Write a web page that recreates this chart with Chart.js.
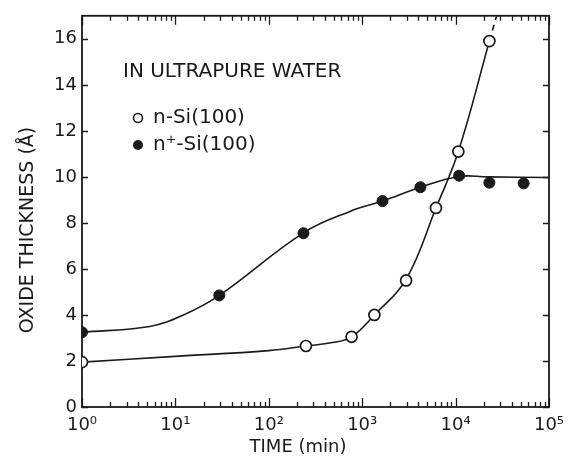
<!DOCTYPE html>
<html>
<head>
<meta charset="utf-8">
<script src="https://cdn.jsdelivr.net/npm/chart.js@4.4.1/dist/chart.umd.min.js"></script>
<style>
  html, body { margin: 0; padding: 0; background: #fff; }
  canvas { display: block; }
</style>
</head>
<body>
<canvas id="oxide" width="578" height="461"></canvas>
<script>
// measured points
const nSiTime = [1, 250, 770, 1350, 2950, 6160, 10700, 23000];
const nSiOxide = [1.95, 2.65, 3.05, 4.0, 5.5, 8.65, 11.1, 15.9];
const npSiTime = [1, 29.5, 235, 1650, 4200, 10900, 23000, 53500];
const npSiOxide = [3.25, 4.85, 7.55, 8.95, 9.55, 10.05, 9.75, 9.72];

// hand-drawn guide curves
const nFitTime = [1, 10, 100, 250, 480, 770, 1350, 2950, 6160, 10700, 23000];
const nFitOxide = [1.95, 2.2, 2.45, 2.65, 2.8, 3.05, 4.0, 5.55, 8.65, 11.1, 15.9];
const nDashTime = [23000, 27500];
const nDashOxide = [15.9, 17.0];
const npFitTime = [1, 5.3, 12.2, 29.5, 235, 740, 1650, 4200, 10900, 22000, 100000];
const npFitOxide = [3.25, 3.5, 4.0, 4.85, 7.57, 8.5, 8.95, 9.55, 10.02, 10.0, 9.97];

const xTickLabels = ['10⁰', '10¹', '10²', '10³', '10⁴', '10⁵'];
const yTicks = [0, 2, 4, 6, 8, 10, 12, 14, 16];

const ink = '#1a1a1a';
const pts = (xs, ys) => xs.map((x, i) => ({x: x, y: ys[i]}));
const isDecade = v => Math.abs(Math.log10(v) - Math.round(Math.log10(v))) < 1e-9;

Chart.defaults.font.family = 'DejaVu Sans';
Chart.defaults.color = ink;

const axisDeco = {
  id: 'axisDeco',
  beforeDatasetsDraw(chart) {
    const {ctx, chartArea: a, scales: {x, y}} = chart;
    ctx.save();
    ctx.strokeStyle = ink;
    ctx.lineWidth = 1.3;
    x.ticks.forEach(t => {
      const px = Math.round(x.getPixelForValue(t.value)) + 0.5;
      const len = isDecade(t.value) ? 9 : 5;
      ctx.beginPath();
      ctx.moveTo(px, a.bottom); ctx.lineTo(px, a.bottom - len);
      ctx.moveTo(px, a.top); ctx.lineTo(px, a.top + len);
      ctx.stroke();
    });
    y.ticks.forEach(t => {
      const py = Math.round(y.getPixelForValue(t.value)) + 0.5;
      ctx.beginPath();
      ctx.moveTo(a.left, py); ctx.lineTo(a.left + 6, py);
      ctx.moveTo(a.right, py); ctx.lineTo(a.right - 6, py);
      ctx.stroke();
    });
    ctx.lineWidth = 1.8;
    ctx.strokeRect(a.left, a.top, a.right - a.left, a.bottom - a.top);
    ctx.restore();
  },
  afterDraw(chart) {
    const {ctx} = chart;
    ctx.save();
    ctx.fillStyle = ink;
    ctx.textBaseline = 'middle';

    ctx.font = '18px "DejaVu Sans"';
    ctx.textAlign = 'center';
    ctx.fillText('TIME (min)', 298, 447);
    ctx.save();
    ctx.translate(28, 230);
    ctx.rotate(-Math.PI / 2);
    ctx.font = '19px "DejaVu Sans"';
    ctx.fillText('OXIDE THICKNESS (Å)', 0, 0);
    ctx.restore();

    ctx.textAlign = 'left';
    ctx.font = '20px "DejaVu Sans"';
    ctx.fillText('IN ULTRAPURE WATER', 123, 72);
    ctx.fillText('n-Si(100)', 153, 118);
    ctx.fillText('n⁺-Si(100)', 153, 145);

    ctx.lineWidth = 1.6;
    ctx.strokeStyle = ink;
    ctx.beginPath(); ctx.arc(138, 118, 4.5, 0, Math.PI * 2);
    ctx.fillStyle = '#fff'; ctx.fill(); ctx.stroke();
    ctx.beginPath(); ctx.arc(138, 145, 5, 0, Math.PI * 2);
    ctx.fillStyle = ink; ctx.fill();
    ctx.restore();
  }
};

new Chart(document.getElementById('oxide'), {
  type: 'scatter',
  data: {
    datasets: [
      {
        label: 'n-Si(100)',
        data: pts(nSiTime, nSiOxide),
        pointRadius: 5.5,
        pointBackgroundColor: '#fff',
        pointBorderColor: ink,
        pointBorderWidth: 1.7,
        order: 0
      },
      {
        label: 'n+-Si(100)',
        data: pts(npSiTime, npSiOxide),
        pointRadius: 5.5,
        pointBackgroundColor: ink,
        pointBorderColor: ink,
        pointBorderWidth: 1,
        order: 0
      },
      {
        label: 'n-Si fit',
        data: pts(nFitTime, nFitOxide),
        showLine: true,
        pointRadius: 0,
        borderColor: ink,
        borderWidth: 1.6,
        tension: 0.4,
        order: 1
      },
      {
        label: 'n-Si fit (extrapolated)',
        data: pts(nDashTime, nDashOxide),
        showLine: true,
        pointRadius: 0,
        borderColor: ink,
        borderWidth: 1.6,
        borderDash: [6, 5],
        order: 1
      },
      {
        label: 'n+-Si fit',
        data: pts(npFitTime, npFitOxide),
        showLine: true,
        pointRadius: 0,
        borderColor: ink,
        borderWidth: 1.6,
        tension: 0.4,
        order: 1
      }
    ]
  },
  options: {
    responsive: false,
    animation: false,
    devicePixelRatio: 1,
    layout: {padding: {top: 7, right: 29, left: 0, bottom: 0}},
    plugins: {legend: {display: false}, tooltip: {enabled: false}},
    scales: {
      x: {
        type: 'logarithmic',
        min: 1,
        max: 100000,
        grid: {display: false, drawTicks: false},
        border: {display: false},
        afterBuildTicks: s => {
          const t = [];
          for (let d = 0; d < 5; d++) {
            for (let k = 1; k < 10; k++) t.push({value: k * Math.pow(10, d)});
          }
          t.push({value: 100000});
          s.ticks = t;
        },
        afterFit: s => { s.height = 54; },
        ticks: {
          autoSkip: false,
          maxRotation: 0,
          padding: 8,
          font: {size: 18},
          callback: v => isDecade(v) ? xTickLabels[Math.round(Math.log10(v))] : ''
        }
      },
      y: {
        min: 0,
        max: 17,
        grid: {display: false, drawTicks: false},
        border: {display: false},
        afterBuildTicks: s => { s.ticks = yTicks.map(v => ({value: v})); },
        afterFit: s => { s.width = 82; },
        ticks: {padding: 5, font: {size: 18}}
      }
    }
  },
  plugins: [axisDeco]
});
</script>
</body>
</html>
